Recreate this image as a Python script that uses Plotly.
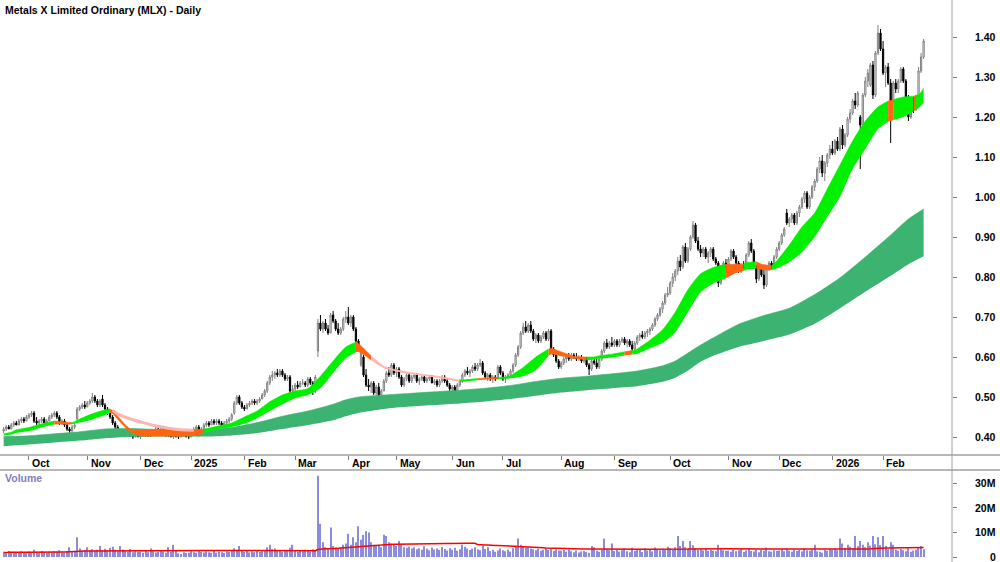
import pandas as pd
import plotly.graph_objects as go

# ---------------- DATA ----------------
holidays = ['2024-12-25', '2024-12-26', '2025-01-01', '2025-01-27', '2025-04-18', '2025-04-21',
            '2025-04-25', '2025-06-09', '2025-12-25', '2025-12-26', '2026-01-01', '2026-01-26']

# prices in cents, one value per trading day (2024-09-17 .. 2026-02-24)
opens = [
    41.5, 42.0, 42.5, 42.0, 43.0, 43.5, 43.0, 44.0, 44.5, 44.0,
    45.0, 45.5, 46.0, 44.0, 43.5, 44.0, 44.5, 43.5, 44.0, 45.0, 45.5, 46.0, 45.0, 43.5, 44.0, 43.0, 42.0, 41.5, 42.5, 44.5, 47.0, 47.5, 48.0,
    47.5, 48.5, 49.0, 50.0, 49.0, 48.0, 49.5, 48.0, 47.0, 46.0, 45.0, 43.5, 42.5, 41.5, 41.0, 40.5, 41.0, 40.5, 40.5, 40.0, 40.5,
    40.0, 40.5, 40.5, 41.0, 40.5, 40.5, 41.5, 42.0, 41.5, 42.0, 41.0, 40.5, 40.5, 40.0, 40.5, 40.0, 40.0, 40.5, 40.5, 40.0,
    40.0, 41.0, 42.0, 42.5, 41.5, 42.0, 43.0, 43.5, 43.0, 44.0, 43.5, 44.0, 43.5, 43.0, 43.5, 44.0, 44.5, 46.0, 48.5, 50.0, 48.5,
    47.5, 47.0, 48.0, 48.5, 49.0, 48.5, 49.0, 49.5, 50.5, 51.5, 53.5, 55.0, 55.5, 56.0, 55.5, 56.5, 55.5, 54.5, 55.0, 51.5,
    52.0, 53.0, 52.5, 53.5, 53.5, 53.0, 54.5, 53.5, 51.5, 61.5, 68.5, 67.0, 68.5, 67.0, 66.0, 70.5, 69.0, 67.0, 66.0, 67.0, 69.5,
    70.0, 68.5, 70.0, 67.0, 64.0, 58.0, 60.0, 55.5, 53.0, 52.5, 53.5, 51.0, 52.5, 50.5, 51.5, 54.0, 56.0, 55.5, 58.0,
    56.0, 57.0, 55.0, 53.0, 54.5, 55.5, 54.0, 55.0, 55.5, 54.0, 54.5, 55.0, 54.0, 54.5, 55.0, 53.5, 54.0, 53.0, 54.0, 55.0, 54.0, 53.0,
    52.0, 52.5, 51.5, 53.0, 54.0, 55.5, 56.5, 56.0, 56.5, 57.5, 57.0, 58.0, 58.5, 56.0, 55.0, 55.5, 54.5, 55.0, 54.5, 57.5,
    56.0, 54.5, 55.0, 55.5, 56.5, 58.0, 60.5, 62.5, 66.0, 67.5, 66.5, 68.0, 66.5, 64.5, 65.5, 64.0, 65.0, 66.0, 64.5, 66.5, 62.0, 60.5, 59.0,
    57.5, 58.5, 59.5, 60.0, 59.5, 60.5, 60.0, 59.5, 60.0, 59.0, 59.5, 58.0, 57.0, 59.0, 58.5, 57.5, 59.5, 61.5, 63.5, 62.5, 63.5,
    63.0, 64.0, 63.0, 64.0, 64.5, 63.5, 64.0, 63.0, 62.0, 63.5, 65.0, 65.5, 65.0, 66.0, 66.5, 67.0, 68.0, 69.5, 70.5, 72.0, 73.5, 75.5,
    76.0, 78.5, 80.0, 81.5, 84.0, 82.5, 87.5, 84.0, 87.0, 90.0, 93.0, 89.0, 87.0, 86.0, 87.0, 85.0, 86.0, 87.0, 84.5, 83.5, 78.5, 82.5, 83.5,
    82.5, 84.5, 86.5, 85.0, 83.5, 81.5, 83.0, 82.5, 85.5, 88.5, 86.5, 82.5, 79.5, 82.0, 80.5, 78.0, 82.0, 83.5, 82.5, 85.0,
    87.0, 88.5, 90.5, 96.0, 93.5, 94.5, 95.5, 93.5, 96.0, 97.5, 99.5, 101.0, 97.5, 100.0, 102.5, 104.0, 107.0, 109.0, 106.0, 108.5, 110.5,
    112.0, 111.0, 114.0, 112.0, 117.0, 113.0, 115.5, 119.5, 121.0, 124.0, 123.0, 120.0, 118.0, 125.5, 129.0, 128.0, 133.0, 125.5, 136.0, 141.0,
    137.0, 131.0, 132.5, 128.5, 124.0, 128.5, 127.0, 129.0, 132.0, 129.0, 125.0, 120.0, 123.5, 122.0, 125.0, 131.5, 135.0,
]
highs = [
    42.5, 43.0, 43.0, 43.5, 44.0, 44.0, 44.5, 45.0, 45.0, 45.5,
    46.0, 46.5, 46.5, 45.0, 44.5, 45.0, 45.0, 44.5, 45.5, 46.0, 46.5, 46.5, 45.5, 44.5, 44.5, 43.5, 42.5, 43.0, 43.5, 47.5, 48.0, 48.5, 49.0,
    49.0, 49.5, 51.0, 50.5, 49.5, 49.5, 50.5, 48.5, 47.5, 46.5, 45.5, 44.0, 43.0, 42.0, 41.5, 41.5, 41.5, 41.0, 41.0, 41.0, 41.0,
    41.0, 41.0, 41.5, 41.5, 41.0, 42.0, 42.5, 42.5, 42.5, 42.5, 41.5, 41.0, 41.0, 41.0, 41.0, 40.5, 41.0, 41.0, 41.0, 40.5,
    41.5, 42.5, 43.0, 43.0, 42.5, 43.5, 44.0, 44.0, 44.5, 44.5, 44.5, 44.5, 44.0, 44.0, 44.5, 45.0, 46.0, 49.0, 50.5, 50.5, 49.0,
    48.0, 48.5, 49.0, 49.5, 49.5, 49.5, 50.0, 51.0, 52.0, 54.0, 55.5, 56.5, 56.5, 57.0, 57.0, 57.0, 56.0, 55.5, 55.5, 53.0,
    53.5, 54.0, 54.0, 54.5, 54.0, 55.0, 55.0, 54.0, 55.5, 69.5, 70.5, 69.0, 69.5, 68.0, 71.0, 71.5, 69.5, 68.5, 67.5, 70.0, 71.5,
    72.5, 70.5, 70.5, 67.5, 64.5, 62.0, 60.5, 57.0, 54.5, 54.0, 54.0, 53.0, 53.5, 52.0, 54.5, 56.5, 57.5, 58.5, 58.5,
    57.5, 57.5, 55.5, 55.0, 56.0, 56.0, 55.5, 56.0, 56.0, 55.0, 55.5, 55.5, 55.0, 55.5, 55.5, 54.5, 54.5, 54.5, 55.5, 55.5, 54.5, 53.5,
    53.0, 53.0, 53.5, 54.5, 56.0, 57.0, 57.5, 57.0, 58.0, 58.5, 58.5, 59.5, 59.0, 56.5, 56.0, 56.0, 55.5, 55.5, 58.0, 58.0,
    56.5, 55.5, 56.0, 57.0, 58.5, 61.0, 63.0, 66.5, 68.5, 69.0, 68.5, 69.0, 67.0, 66.0, 66.0, 65.5, 66.5, 66.5, 67.0, 67.0, 62.5, 61.0, 59.5,
    59.0, 60.0, 60.5, 61.0, 61.0, 61.0, 61.0, 60.5, 60.5, 60.0, 60.0, 58.5, 59.5, 60.0, 59.5, 60.0, 62.0, 64.0, 64.5, 64.0, 65.0,
    64.5, 64.5, 64.5, 65.0, 65.0, 64.5, 64.5, 64.0, 64.0, 65.5, 66.0, 66.5, 66.5, 67.0, 67.5, 68.5, 70.0, 71.0, 72.5, 74.0, 76.0, 77.5,
    79.0, 81.0, 82.0, 85.0, 85.5, 88.0, 88.5, 87.5, 90.5, 94.0, 93.5, 90.0, 88.0, 87.5, 87.5, 86.5, 87.5, 87.5, 85.0, 84.0, 83.0, 84.0, 84.5,
    85.0, 87.0, 87.0, 85.5, 84.0, 83.5, 84.0, 86.0, 89.0, 89.5, 87.0, 83.0, 82.5, 82.5, 82.0, 82.5, 84.0, 84.0, 85.5, 87.5,
    89.0, 91.0, 92.5, 97.0, 95.0, 96.0, 96.0, 96.5, 98.0, 100.0, 101.5, 101.5, 100.5, 103.0, 104.5, 107.5, 110.0, 110.5, 109.0, 111.0, 113.0,
    114.0, 114.5, 115.0, 117.5, 118.0, 116.0, 120.0, 122.0, 124.5, 126.0, 126.5, 120.5, 126.0, 130.0, 132.0, 133.5, 134.0, 136.5, 143.0, 142.0,
    139.0, 133.0, 133.5, 129.5, 129.0, 129.5, 129.5, 132.5, 132.5, 129.5, 125.5, 124.0, 125.0, 125.5, 132.5, 136.0, 139.5,
]
lows = [
    41.0, 41.5, 42.0, 42.0, 42.5, 43.0, 43.0, 43.5, 43.5, 44.0,
    44.5, 45.0, 43.5, 43.0, 43.0, 43.5, 43.5, 43.0, 44.0, 44.5, 45.0, 44.5, 43.0, 43.0, 42.5, 41.5, 39.0, 41.0, 42.0, 44.0, 46.5, 47.0, 47.0,
    47.5, 48.0, 48.5, 48.5, 47.5, 47.5, 47.5, 46.5, 45.5, 44.5, 43.0, 42.0, 41.0, 40.5, 40.0, 40.0, 40.0, 40.0, 39.5, 40.0, 40.0,
    39.5, 40.0, 40.0, 40.0, 40.0, 40.5, 41.0, 41.0, 41.0, 41.0, 40.0, 40.0, 40.0, 39.5, 40.0, 39.5, 40.0, 40.0, 40.0, 39.5,
    40.0, 41.0, 41.5, 41.5, 41.0, 42.0, 42.5, 42.5, 43.0, 43.0, 43.0, 43.0, 42.5, 42.5, 43.0, 43.5, 44.0, 45.5, 48.0, 48.0, 47.0,
    46.5, 47.0, 47.5, 48.0, 48.0, 48.0, 48.5, 49.5, 50.0, 51.0, 53.0, 54.0, 54.5, 55.0, 55.0, 55.0, 54.0, 54.0, 51.0, 50.0,
    51.5, 52.0, 52.5, 53.0, 52.5, 52.5, 53.0, 50.5, 51.0, 60.0, 66.5, 66.0, 66.5, 65.5, 66.0, 68.5, 66.5, 65.5, 65.5, 66.5, 68.5,
    68.0, 67.5, 66.5, 63.5, 62.5, 57.5, 55.0, 52.5, 51.5, 51.0, 50.5, 50.0, 50.0, 49.5, 51.5, 53.5, 55.0, 55.0, 55.5,
    55.0, 54.5, 52.5, 52.5, 54.0, 53.5, 53.5, 54.5, 53.5, 53.0, 54.0, 53.5, 53.5, 54.0, 53.5, 53.0, 52.5, 52.5, 53.5, 53.5, 52.5, 51.5,
    51.0, 50.5, 51.0, 52.5, 53.5, 55.0, 55.5, 55.0, 56.0, 56.5, 56.5, 57.5, 55.5, 54.5, 54.0, 54.0, 53.5, 54.0, 54.5, 55.5,
    54.0, 53.5, 54.5, 55.0, 56.0, 57.5, 60.0, 62.0, 65.5, 66.0, 66.0, 66.0, 64.0, 63.5, 63.5, 63.5, 64.5, 64.0, 64.0, 61.5, 60.0, 58.5, 57.0,
    57.0, 58.0, 58.5, 59.0, 59.0, 59.5, 59.0, 59.0, 58.5, 58.5, 57.5, 55.5, 56.5, 58.0, 57.0, 57.0, 59.0, 61.0, 62.0, 62.0, 62.5,
    62.5, 62.5, 62.5, 63.5, 63.0, 62.5, 62.5, 61.5, 61.5, 63.0, 64.0, 64.5, 64.5, 65.0, 65.5, 66.5, 67.5, 69.0, 70.0, 71.0, 73.0, 75.0,
    75.5, 77.5, 79.0, 80.5, 81.5, 82.0, 83.5, 83.5, 86.5, 89.5, 88.5, 86.5, 85.0, 85.0, 84.5, 83.5, 85.0, 84.0, 83.0, 77.5, 78.0, 81.5, 82.0,
    82.0, 84.0, 84.5, 83.0, 81.0, 81.0, 82.0, 82.0, 85.0, 86.0, 82.0, 78.5, 79.0, 80.0, 77.0, 77.5, 81.5, 82.0, 82.0, 84.5,
    86.5, 88.0, 90.0, 93.0, 92.5, 93.5, 93.0, 93.0, 95.0, 97.0, 98.5, 97.0, 97.0, 99.5, 101.5, 103.5, 106.0, 105.0, 104.0, 107.5, 109.5,
    110.5, 110.5, 111.5, 111.5, 112.0, 112.5, 115.0, 118.5, 120.5, 122.0, 122.5, 107.0, 117.5, 125.0, 127.5, 127.5, 124.5, 125.0, 135.5, 136.5,
    130.5, 127.5, 128.0, 113.5, 123.5, 126.0, 126.0, 128.5, 128.5, 124.0, 119.0, 119.5, 121.0, 121.5, 124.5, 131.0, 134.5,
]
closes = [
    42.0, 42.5, 42.0, 43.0, 43.5, 43.0, 44.0, 44.5, 44.0, 45.0,
    45.5, 46.0, 44.0, 43.5, 44.0, 44.5, 43.5, 44.0, 45.0, 45.5, 46.0, 45.0, 43.5, 44.0, 43.0, 42.0, 41.5, 42.5, 43.0, 47.0, 47.5, 48.0, 47.5,
    48.5, 49.0, 50.0, 49.0, 48.0, 49.0, 48.0, 47.0, 46.0, 45.0, 43.5, 42.5, 41.5, 41.0, 40.5, 41.0, 40.5, 40.5, 40.0, 40.5, 40.0,
    40.5, 40.5, 41.0, 40.5, 40.5, 41.5, 42.0, 41.5, 42.0, 41.0, 40.5, 40.5, 40.0, 40.5, 40.0, 40.0, 40.5, 40.5, 40.0, 40.0,
    41.0, 42.0, 42.5, 41.5, 42.0, 43.0, 43.5, 43.0, 44.0, 43.5, 44.0, 43.5, 43.0, 43.5, 44.0, 44.5, 45.5, 48.5, 50.0, 48.5, 47.5,
    47.0, 48.0, 48.5, 49.0, 48.5, 49.0, 49.5, 50.5, 51.5, 53.5, 55.0, 55.5, 56.0, 55.5, 56.5, 55.5, 54.5, 55.0, 51.5, 52.0,
    53.0, 52.5, 53.5, 53.5, 53.0, 54.5, 53.5, 51.5, 55.0, 68.5, 67.0, 68.5, 67.0, 66.0, 70.5, 69.0, 67.0, 66.0, 67.0, 69.5, 70.0,
    68.5, 70.0, 67.0, 64.0, 63.0, 61.0, 55.5, 53.0, 52.5, 53.5, 51.0, 52.5, 50.5, 51.5, 54.0, 56.0, 55.5, 58.0, 56.0,
    57.0, 55.0, 53.0, 54.5, 55.5, 54.0, 55.0, 55.5, 54.0, 54.5, 55.0, 54.0, 54.5, 55.0, 53.5, 54.0, 53.0, 54.0, 55.0, 54.0, 53.0, 52.0,
    52.5, 51.5, 53.0, 54.0, 55.5, 56.5, 56.0, 56.5, 57.5, 57.0, 58.0, 58.5, 56.0, 55.0, 55.5, 54.5, 55.0, 54.5, 57.5, 56.0,
    54.5, 55.0, 55.5, 56.5, 58.0, 60.5, 62.5, 66.0, 67.5, 66.5, 68.0, 66.5, 64.5, 65.5, 64.0, 65.0, 66.0, 64.5, 66.5, 62.0, 60.5, 59.0, 57.5,
    58.5, 59.5, 60.0, 59.5, 60.5, 60.0, 59.5, 60.0, 59.0, 59.5, 58.0, 57.0, 59.0, 58.5, 57.5, 59.5, 61.5, 63.5, 62.5, 63.5, 63.0,
    64.0, 63.0, 64.0, 64.5, 63.5, 64.0, 63.0, 62.0, 63.5, 65.0, 65.5, 65.0, 66.0, 66.5, 67.0, 68.0, 69.5, 70.5, 72.0, 73.5, 75.5, 76.0,
    78.5, 80.0, 81.5, 84.0, 82.5, 87.5, 84.0, 87.0, 90.0, 93.0, 89.0, 87.0, 86.0, 87.0, 85.0, 86.0, 87.0, 84.5, 83.5, 78.5, 82.5, 83.5, 82.5,
    84.5, 86.5, 85.0, 83.5, 81.5, 83.0, 82.5, 85.5, 88.5, 86.5, 82.5, 79.5, 82.0, 80.5, 78.0, 82.0, 83.5, 82.5, 85.0, 87.0,
    88.5, 90.5, 92.0, 93.5, 94.5, 95.5, 93.5, 96.0, 97.5, 99.5, 101.0, 97.5, 100.0, 102.5, 104.0, 107.0, 109.0, 106.0, 108.5, 110.5, 112.0,
    111.0, 114.0, 112.0, 117.0, 113.0, 115.5, 119.5, 121.0, 124.0, 123.0, 126.0, 118.0, 125.5, 129.0, 131.0, 133.0, 125.5, 136.0, 141.0, 137.0,
    131.0, 132.5, 128.5, 124.0, 128.5, 127.0, 129.0, 132.0, 129.0, 125.0, 120.0, 123.5, 122.0, 125.0, 131.5, 135.0, 139.0,
]
# volume in millions of shares
volume_m = [
    2.0, 1.5, 2.5, 1.8, 2.2, 1.6, 2.0, 2.4, 1.7, 2.1,
    2.3, 1.9, 3.0, 2.2, 1.8, 2.5, 2.0, 1.6, 2.2, 1.9, 2.4, 2.1, 2.8, 2.0, 1.7, 2.3, 4.0, 2.5, 2.2, 8.0, 3.5, 2.6, 2.9,
    4.0, 2.8, 3.2, 2.5, 3.0, 4.5, 2.7, 3.4, 2.6, 3.8, 4.2, 3.0, 2.4, 4.5, 3.1, 2.6, 2.2, 3.3, 2.0, 2.4, 2.1,
    2.2, 1.8, 2.6, 2.0, 3.5, 2.4, 1.9, 2.1, 2.8, 2.3, 1.7, 4.0, 2.2, 5.0, 2.6, 1.5, 1.2, 2.0, 1.6, 1.8,
    2.4, 2.0, 1.8, 2.6, 2.1, 1.9, 2.3, 2.0, 1.7, 2.5, 1.8, 2.2, 2.0, 1.6, 2.4, 2.1, 2.8, 3.6, 3.0, 4.5, 2.6,
    2.2, 2.5, 1.9, 2.3, 2.0, 2.6, 2.1, 2.4, 2.8, 4.0, 5.0, 3.2, 3.5, 2.8, 2.5, 2.2, 3.0, 2.6, 3.8, 5.0,
    2.6, 2.2, 2.8, 2.4, 3.0, 2.5, 2.3, 3.2, 2.8, 33.0, 13.5, 6.0, 4.0, 3.5, 12.0, 4.5, 4.0, 3.5, 4.0, 5.0, 5.5,
    9.5, 5.0, 8.0, 6.0, 12.5, 7.0, 9.0, 10.5, 10.0, 6.0, 5.0, 4.5, 5.0, 4.0, 9.0, 8.5, 6.0, 5.5, 5.0,
    4.5, 6.5, 5.0, 4.0, 3.8, 4.2, 3.5, 4.0, 3.2, 3.6, 3.0, 4.4, 3.4, 2.8, 3.9, 3.1, 3.5, 2.9, 4.1, 3.3, 2.7, 3.6,
    3.0, 3.8, 2.6, 3.2, 5.0, 4.2, 3.5, 2.9, 3.4, 4.0, 3.1, 2.8, 4.6, 3.3, 4.0, 2.5, 3.0, 2.2, 2.7, 3.5,
    2.8, 2.4, 3.0, 2.2, 3.6, 4.5, 7.5, 5.0, 4.5, 3.8, 4.0, 3.5, 3.2, 2.8, 3.4, 2.6, 3.0, 3.6, 2.9, 3.3, 2.5, 3.1, 2.7,
    2.6, 2.9, 2.2, 3.1, 2.4, 2.0, 2.7, 1.9, 2.3, 2.5, 2.1, 1.8, 4.5, 4.0, 2.6, 2.2, 3.0, 7.5, 3.2, 2.8, 5.5,
    2.5, 3.0, 2.2, 2.8, 3.5, 2.4, 2.0, 3.8, 2.6, 3.2, 2.9, 2.1, 3.6, 2.7, 3.0, 2.3, 3.9, 3.1, 2.8, 3.4, 3.0, 4.2,
    3.6, 3.0, 4.0, 8.5, 4.5, 6.5, 4.0, 3.5, 6.5, 4.8, 3.6, 2.9, 3.2, 2.7, 3.4, 2.5, 3.0, 2.6, 2.4, 5.0, 3.2, 2.8, 2.5,
    2.6, 2.2, 3.0, 2.4, 2.8, 3.4, 2.1, 2.7, 3.6, 2.5, 2.3, 3.1, 2.0, 2.9, 2.6, 3.8, 2.4, 2.2, 2.8, 2.5,
    2.7, 3.2, 2.4, 3.5, 2.6, 2.2, 3.0, 2.5, 2.9, 2.3, 3.4, 2.8, 2.6, 3.1, 5.0, 2.4, 2.2, 1.8, 2.9, 2.6, 3.3,
    3.0, 3.5, 2.8, 7.5, 5.5, 3.8, 5.0, 4.2, 3.6, 8.5, 4.4, 6.5, 5.0, 4.0, 6.0, 4.6, 8.5, 5.2, 8.0, 4.8,
    8.5, 4.5, 3.2, 6.0, 5.0, 3.0, 2.6, 3.4, 2.8, 2.4, 3.6, 2.2, 2.6, 3.0, 4.0, 4.5, 3.2,
]

# short-term trend ribbon: upper / lower edge and state (g = up, o = down, p = thin down line)
short_dates = ['2024-09-17', '2024-09-20', '2024-09-24', '2024-10-01', '2024-10-08', '2024-10-15', '2024-10-17',
               '2024-10-22', '2024-10-24', '2024-10-25', '2024-10-29', '2024-11-05', '2024-11-12', '2024-11-14',
               '2024-11-15', '2024-11-19', '2024-11-26', '2024-12-03', '2024-12-10', '2024-12-17', '2024-12-24',
               '2025-01-03', '2025-01-09', '2025-01-10', '2025-01-17', '2025-01-24', '2025-02-03', '2025-02-10',
               '2025-02-17', '2025-02-24', '2025-03-03', '2025-03-10', '2025-03-17', '2025-03-24', '2025-03-31',
               '2025-04-04', '2025-04-07', '2025-04-14', '2025-04-23', '2025-05-01', '2025-05-08', '2025-05-15',
               '2025-05-22', '2025-05-29', '2025-06-05', '2025-06-10', '2025-06-17', '2025-06-19', '2025-06-27',
               '2025-07-03', '2025-07-11', '2025-07-18', '2025-07-25', '2025-07-28', '2025-08-01', '2025-08-08',
               '2025-08-15', '2025-08-20', '2025-08-22', '2025-08-29', '2025-09-05', '2025-09-10', '2025-09-11',
               '2025-09-12', '2025-09-19', '2025-09-26', '2025-10-03', '2025-10-10', '2025-10-17', '2025-10-24',
               '2025-10-31', '2025-11-06', '2025-11-11', '2025-11-12', '2025-11-18', '2025-11-20', '2025-11-26',
               '2025-11-28', '2025-12-05', '2025-12-12', '2025-12-19', '2025-12-30', '2026-01-07', '2026-01-14',
               '2026-01-21', '2026-01-29', '2026-02-04', '2026-02-06', '2026-02-09', '2026-02-12', '2026-02-18',
               '2026-02-19', '2026-02-20', '2026-02-23', '2026-02-24']
short_hi = [0.408, 0.412, 0.418, 0.424, 0.433, 0.440, 0.439, 0.437, 0.436, 0.438, 0.445, 0.458, 0.468, 0.470,
            0.466, 0.452, 0.420, 0.418, 0.419, 0.419, 0.417, 0.417, 0.419, 0.421, 0.428, 0.435, 0.450, 0.465,
            0.488, 0.505, 0.515, 0.521, 0.552, 0.590, 0.625, 0.637, 0.634, 0.603, 0.577, 0.568, 0.562, 0.557,
            0.553, 0.548, 0.542, 0.543, 0.546, 0.547, 0.549, 0.551, 0.574, 0.600, 0.620, 0.622, 0.613, 0.602,
            0.600, 0.600, 0.603, 0.607, 0.613, 0.616, 0.617, 0.620, 0.642, 0.668, 0.712, 0.768, 0.808, 0.824,
            0.832, 0.832, 0.832, 0.836, 0.838, 0.832, 0.828, 0.840, 0.880, 0.925, 0.960, 1.020, 1.080, 1.140,
            1.190, 1.225, 1.240, 1.243, 1.245, 1.250, 1.252, 1.254, 1.256, 1.262, 1.272]
short_lo = [0.404, 0.406, 0.410, 0.415, 0.424, 0.431, 0.432, 0.431, 0.432, 0.434, 0.436, 0.444, 0.455, 0.460,
            0.458, 0.444, 0.412, 0.402, 0.401, 0.402, 0.401, 0.403, 0.409, 0.412, 0.420, 0.425, 0.433, 0.447,
            0.465, 0.482, 0.497, 0.505, 0.522, 0.560, 0.597, 0.612, 0.613, 0.592, 0.572, 0.564, 0.558, 0.553,
            0.549, 0.544, 0.538, 0.539, 0.542, 0.543, 0.545, 0.546, 0.552, 0.567, 0.603, 0.607, 0.602, 0.596,
            0.592, 0.594, 0.596, 0.599, 0.604, 0.606, 0.607, 0.608, 0.622, 0.635, 0.662, 0.712, 0.762, 0.784,
            0.797, 0.810, 0.815, 0.818, 0.821, 0.818, 0.817, 0.821, 0.837, 0.862, 0.900, 0.950, 1.000, 1.070,
            1.120, 1.170, 1.188, 1.192, 1.194, 1.200, 1.214, 1.218, 1.222, 1.228, 1.235]
short_state = list("o" "ggggg" "ooo" "ggggg" "ooooooooo" "ggggggggggggg" "oo" "ppppppp" "gg" "oo" "gggg"
                   "oooo" "gggg" "o" "ggggggggg" "oo" "gg" "oo" "gggggggggg" "o" "ggg" "o" "ggg")

# slow falling trace line left behind after the Nov-2024 top
trail_dates = ['2024-11-15', '2024-11-19', '2024-11-26', '2024-12-03', '2024-12-10', '2024-12-17', '2024-12-24',
               '2025-01-03']
trail_vals = [0.466, 0.458, 0.445, 0.436, 0.428, 0.422, 0.418, 0.417]

# long-term ribbon
long_dates = ['2024-09-17', '2024-10-01', '2024-10-15', '2024-10-29', '2024-11-12', '2024-11-26', '2024-12-10',
              '2024-12-24', '2025-01-10', '2025-01-24', '2025-02-10', '2025-02-24', '2025-03-10', '2025-03-24',
              '2025-03-31', '2025-04-07', '2025-04-23', '2025-05-08', '2025-05-22', '2025-06-05', '2025-06-20',
              '2025-07-04', '2025-07-18', '2025-08-01', '2025-08-15', '2025-08-29', '2025-09-12', '2025-09-26',
              '2025-10-03', '2025-10-10', '2025-10-17', '2025-10-24', '2025-11-07', '2025-11-21', '2025-12-05',
              '2025-12-19', '2026-01-07', '2026-01-21', '2026-02-05', '2026-02-16', '2026-02-24']
long_hi = [0.401, 0.403, 0.408, 0.413, 0.420, 0.421, 0.419, 0.418, 0.419, 0.424, 0.436, 0.452, 0.465, 0.482,
           0.493, 0.500, 0.505, 0.509, 0.513, 0.517, 0.522, 0.529, 0.539, 0.547, 0.552, 0.558, 0.565, 0.578,
           0.590, 0.610, 0.630, 0.648, 0.682, 0.704, 0.722, 0.756, 0.798, 0.850, 0.905, 0.945, 0.970]
long_lo = [0.377, 0.381, 0.386, 0.391, 0.397, 0.400, 0.401, 0.401, 0.401, 0.404, 0.410, 0.420, 0.430, 0.442,
           0.452, 0.460, 0.470, 0.476, 0.480, 0.484, 0.489, 0.495, 0.503, 0.511, 0.517, 0.522, 0.527, 0.538,
           0.548, 0.566, 0.588, 0.603, 0.625, 0.640, 0.656, 0.683, 0.722, 0.763, 0.803, 0.832, 0.852]

price_ticks = [0.40, 0.50, 0.60, 0.70, 0.80, 0.90, 1.00, 1.10, 1.20, 1.30, 1.40]
volume_ticks = [0, 10, 20, 30]
volume_tick_text = ['0', '10M', '20M', '30M']
vol_ma_window = 63

# ---------------- BUILD ----------------
dates = [d for d in pd.bdate_range('2024-09-17', '2026-02-24') if d.strftime('%Y-%m-%d') not in holidays]
n = len(dates)
assert len(opens) == n and len(highs) == n and len(lows) == n and len(closes) == n and len(volume_m) == n, \
    (n, len(opens), len(highs), len(lows), len(closes), len(volume_m))
assert len(short_dates) == len(short_hi) == len(short_lo) == len(short_state)
pos = {d.strftime('%Y-%m-%d'): i for i, d in enumerate(dates)}
xs = list(range(n))

GREEN = '#00f000'
ORANGE = '#ff6410'
PINK = '#ffb4ac'
SEA = '#3cb371'

fig = go.Figure()


def add_band(xv, lo, hi, color, xaxis='x', yaxis='y'):
    fig.add_trace(go.Scatter(x=xv, y=lo, mode='lines', line=dict(width=0, color=color, shape='spline', smoothing=0.6),
                             hoverinfo='skip', showlegend=False, xaxis=xaxis, yaxis=yaxis))
    fig.add_trace(go.Scatter(x=xv, y=hi, mode='lines', line=dict(width=0.6, color=color, shape='spline', smoothing=0.6),
                             fill='tonexty', fillcolor=color, hoverinfo='skip', showlegend=False,
                             xaxis=xaxis, yaxis=yaxis))


# long ribbon
add_band([pos[d] for d in long_dates], long_lo, long_hi, SEA)

# short ribbon, split into runs of the same state (an interval takes the state of its right end)
sx = [pos[d] for d in short_dates]
colmap = {'g': GREEN, 'o': ORANGE, 'p': PINK}
runs = []
cur_state = short_state[1]
cur = [0, 1]
for k in range(2, len(sx)):
    if short_state[k] == cur_state:
        cur.append(k)
    else:
        runs.append((cur_state, cur))
        cur_state = short_state[k]
        cur = [k - 1, k]
runs.append((cur_state, cur))
for st, ids in runs:
    add_band([sx[i] for i in ids], [short_lo[i] for i in ids], [short_hi[i] for i in ids], colmap[st])

fig.add_trace(go.Scatter(x=[pos[d] for d in trail_dates], y=trail_vals, mode='lines',
                         line=dict(color=PINK, width=3, shape='spline', smoothing=0.6),
                         hoverinfo='skip', showlegend=False))

# candles
fig.add_trace(go.Candlestick(
    x=xs, open=[v / 100 for v in opens], high=[v / 100 for v in highs],
    low=[v / 100 for v in lows], close=[v / 100 for v in closes],
    increasing=dict(line=dict(color='#808080', width=1), fillcolor='#ffffff'),
    decreasing=dict(line=dict(color='#000000', width=1), fillcolor='#000000'),
    whiskerwidth=0, showlegend=False, hoverinfo='skip', xaxis='x', yaxis='y'))

# volume
fig.add_trace(go.Bar(x=xs, y=volume_m, marker=dict(color='#8c8cdc', line=dict(width=0)), width=0.45,
                     showlegend=False, hoverinfo='skip', xaxis='x2', yaxis='y2'))
vol_ma = pd.Series(volume_m).rolling(vol_ma_window, min_periods=1).mean()
fig.add_trace(go.Scatter(x=xs, y=vol_ma, mode='lines', line=dict(color='#ff0000', width=1.5),
                         showlegend=False, hoverinfo='skip', xaxis='x2', yaxis='y2'))

# month ticks
month_idx, month_lbl = [], []
prev = None
for i, d in enumerate(dates):
    key = (d.year, d.month)
    if prev is not None and key != prev:
        month_idx.append(i)
        month_lbl.append(str(d.year) if d.month == 1 else d.strftime('%b'))
    prev = key

W, H = 1000, 562
plot_right = 952 / W
price_bottom = 1 - 455 / H
vol_top = 1 - 470 / H
xr = [-1.44, 374.2]
FONT = 'Liberation Sans, Arial, sans-serif'

annotations = []
annotations.append(dict(text='<b>Metals X Limited Ordinary (MLX) - Daily</b>', xref='paper', yref='paper',
                        x=3 / W, y=1 - 2 / H, xanchor='left', yanchor='top', showarrow=False,
                        font=dict(family=FONT, size=10.5, color='#000000')))
for i, lbl in zip(month_idx, month_lbl):
    annotations.append(dict(text='<b>%s</b>' % lbl, xref='x', yref='paper', x=i + 0.5, y=1 - 463 / H,
                            xanchor='left', yanchor='middle', showarrow=False,
                            font=dict(family=FONT, size=10.5, color='#000000')))
for t in price_ticks:
    annotations.append(dict(text='<b>%.2f</b>' % t, xref='paper', yref='y', x=998 / W, y=t,
                            xanchor='right', yanchor='middle', showarrow=False,
                            font=dict(family=FONT, size=10.5, color='#000000')))
for t, s in zip(volume_ticks, volume_tick_text):
    annotations.append(dict(text='<b>%s</b>' % s, xref='paper', yref='y2', x=998 / W, y=t,
                            xanchor='right', yanchor='middle', showarrow=False,
                            font=dict(family=FONT, size=10.5, color='#000000')))
annotations.append(dict(text='<b>Volume</b>', xref='paper', yref='paper', x=3 / W, y=1 - 478 / H,
                        xanchor='left', yanchor='middle', showarrow=False,
                        font=dict(family=FONT, size=10.5, color='#8080c0')))

shapes = [
    dict(type='line', xref='paper', yref='paper', x0=plot_right, x1=plot_right, y0=0, y1=1,
         line=dict(color='#a0a0a0', width=1)),
    dict(type='line', xref='paper', yref='paper', x0=0, x1=1, y0=price_bottom, y1=price_bottom,
         line=dict(color='#a0a0a0', width=1.5)),
    dict(type='line', xref='paper', yref='paper', x0=0, x1=1, y0=vol_top, y1=vol_top,
         line=dict(color='#a0a0a0', width=1.5)),
]

fig.update_layout(
    width=W, height=H, margin=dict(l=0, r=0, t=0, b=0),
    paper_bgcolor='#ffffff', plot_bgcolor='#ffffff', showlegend=False,
    xaxis=dict(domain=[0, plot_right], range=xr, anchor='y', showgrid=False, zeroline=False, showline=False,
               ticks='outside', ticklen=4, tickcolor='#808080', tickvals=month_idx, showticklabels=False,
               rangeslider=dict(visible=False), fixedrange=True),
    yaxis=dict(domain=[price_bottom, 1], range=[0.355, 1.4925], anchor='x', side='right', showgrid=False,
               zeroline=False, showline=False, ticks='outside', ticklen=4, tickcolor='#808080',
               tickvals=price_ticks, showticklabels=False),
    xaxis2=dict(domain=[0, plot_right], range=xr, anchor='y2', showgrid=False, zeroline=False, showline=False,
                showticklabels=False, ticks=''),
    yaxis2=dict(domain=[0, vol_top], range=[-2, 35.3], anchor='x2', side='right', showgrid=False,
                zeroline=False, showline=False, ticks='outside', ticklen=4, tickcolor='#808080',
                tickvals=volume_ticks, showticklabels=False),
    annotations=annotations, shapes=shapes, bargap=0.5,
)

fig.write_html('out.html')
